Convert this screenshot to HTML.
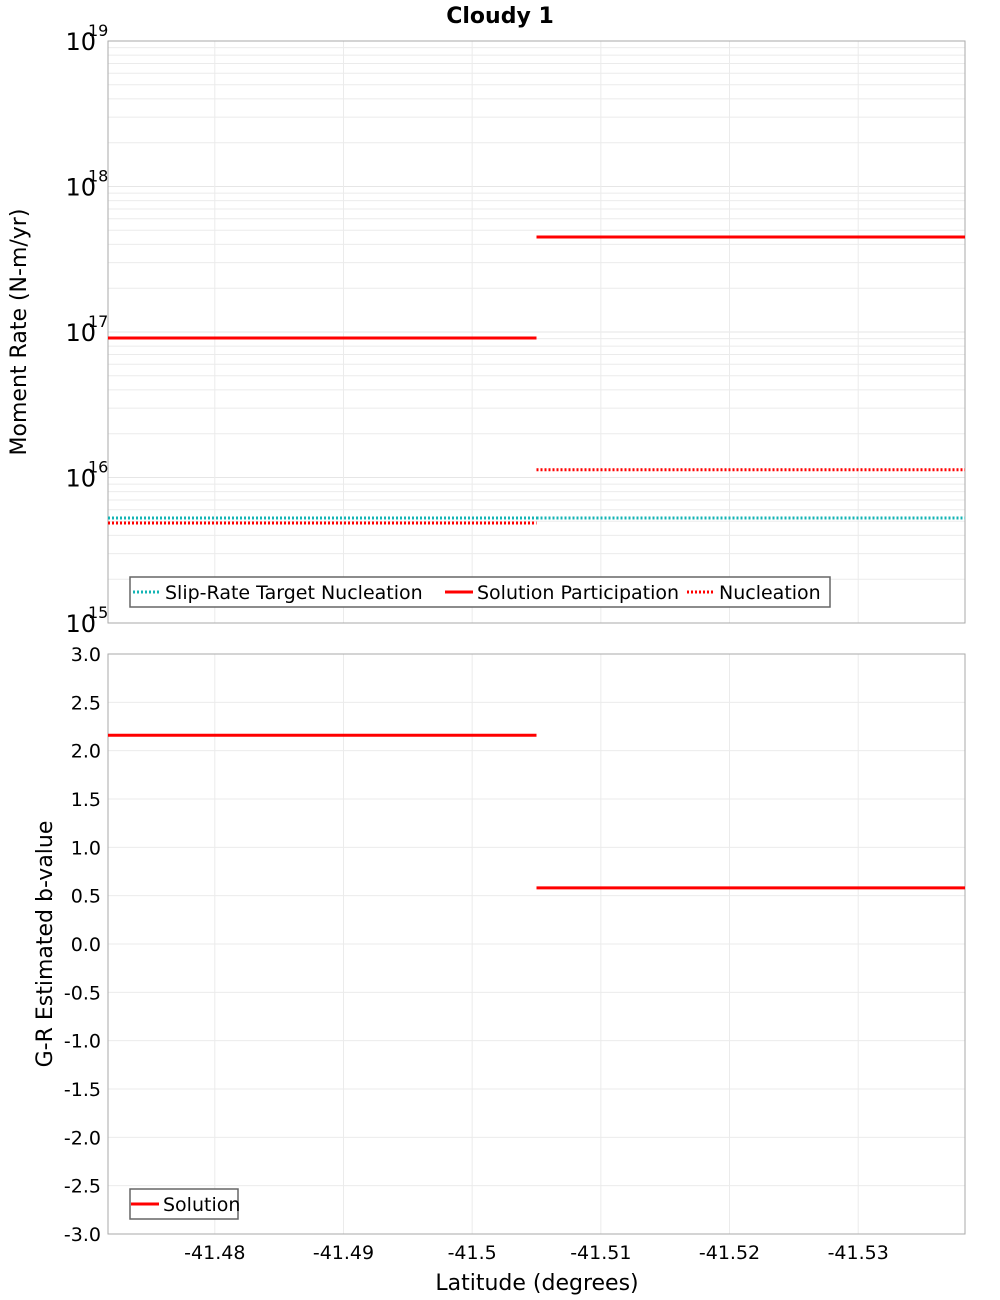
<!DOCTYPE html>
<html><head><meta charset="utf-8"><style>
body{margin:0;background:#fff;}
svg{display:block;font-family:"DejaVu Sans","Liberation Sans",sans-serif;}
</style></head><body>
<svg id="chart" width="1000" height="1300" viewBox="0 0 1000 1300" xmlns="http://www.w3.org/2000/svg">
<text x="500" y="23" text-anchor="middle" font-size="22" font-weight="bold">Cloudy 1</text>
<g id="topPanel"></g>
<g id="botPanel"></g>
<text transform="translate(26,332) rotate(-90)" text-anchor="middle" font-size="22">Moment Rate (N-m/yr)</text>
<text transform="translate(52,944) rotate(-90)" text-anchor="middle" font-size="22">G-R Estimated b-value</text>
<text x="537" y="1290" text-anchor="middle" font-size="22">Latitude (degrees)</text>
</svg>
<script>
const xTicks=[-41.48,-41.49,-41.50,-41.51,-41.52,-41.53];
const xTickLabels=["-41.48","-41.49","-41.5","-41.51","-41.52","-41.53"];
const segStarts=[-41.4717,-41.505];
const segEnds=[-41.505,-41.5383];
const participation=[9.1e16,4.5e17];
const nucleation=[4.87e15,1.13e16];
const targetNucleation=[5.27e15,5.27e15];
const bValues=[2.16,0.58];
const logTicks=[15,16,17,18,19];
const bTicks=[3.0,2.5,2.0,1.5,1.0,0.5,0.0,-0.5,-1.0,-1.5,-2.0,-2.5,-3.0];

const NS="http://www.w3.org/2000/svg";
const L=108,R=965,T1=41,B1=623,T2=654,B2=1234;
const X0=-41.4717,X1=-41.5383;
function xs(v){return L+(v-X0)/(X1-X0)*(R-L);}
function ys1(v){return B1-(Math.log10(v)-15)/4*(B1-T1);}
function ys2(v){return B2-(v+3)/6*(B2-T2);}
function mk(parent,tag,attrs){const e=document.createElementNS(NS,tag);for(const k in attrs)e.setAttribute(k,attrs[k]);parent.appendChild(e);return e;}
const topG=document.getElementById('topPanel'),botG=document.getElementById('botPanel');

for(let d=15;d<19;d++){for(let m=2;m<=9;m++){const y=ys1(m*Math.pow(10,d));
const g=mk(topG,'line',{x1:L,x2:R,y1:y,y2:y,stroke:'#ebebeb','stroke-width':1});

}}
logTicks.forEach(t=>{const y=ys1(Math.pow(10,t));
const g=mk(topG,'line',{x1:L,x2:R,y1:y,y2:y,stroke:'#e6e6e6','stroke-width':1});


const tx=mk(topG,'text',{x:96,y:y+9,'text-anchor':'end','font-size':24});
tx.textContent='10';


const sx=mk(topG,'text',{x:88,y:y-5,'font-size':16});
sx.textContent=String(t);

});
bTicks.forEach(t=>{const y=ys2(t);
const g=mk(botG,'line',{x1:L,x2:R,y1:y,y2:y,stroke:'#ebebeb','stroke-width':1});


const tx=mk(botG,'text',{x:101,y:y+7,'text-anchor':'end','font-size':19});
tx.textContent=t.toFixed(1);

});
xTicks.forEach((t,i)=>{const x=xs(t);
[[topG,T1,B1],[botG,T2,B2]].forEach(([p,a,b])=>{const g=mk(p,'line',{x1:x,x2:x,y1:a,y2:b,stroke:'#ebebeb','stroke-width':1});

});
const tx=mk(botG,'text',{x:x,y:1259,'text-anchor':'middle','font-size':19});
tx.textContent=xTickLabels[i];

});
[[topG,T1,B1],[botG,T2,B2]].forEach(([p,a,b])=>{const r=mk(p,'rect',{x:L,y:a,width:R-L,height:b-a,fill:'none',stroke:'#aaa','stroke-width':1});

});
function seg(p,arr,scale,color,dash,name){arr.forEach((v,i)=>{const y=scale(v);
const a={x1:xs(segStarts[i]),x2:xs(segEnds[i]),y1:y,y2:y,stroke:color,'stroke-width':3};
if(dash)a['stroke-dasharray']='2,2';
const l=mk(p,'line',a);

});}
seg(topG,targetNucleation,ys1,'#14b4b4',true,'target-nucleation-line');
seg(topG,nucleation,ys1,'#ff0000',true,'nucleation-line');
seg(topG,participation,ys1,'#ff0000',false,'participation-line');
seg(botG,bValues,ys2,'#ff0000',false,'b-value-line');
function legend(p,x,y,w,items,name){const g=mk(p,'g',{});


mk(g,'rect',{x:x,y:y,width:w,height:30,fill:'#fff',stroke:'#666','stroke-width':1.5});
items.forEach(it=>{const a={x1:it.x,x2:it.x+28,y1:y+15,y2:y+15,stroke:it.c,'stroke-width':3};
if(it.d)a['stroke-dasharray']='2,2';
mk(g,'line',a);
const t=mk(g,'text',{x:it.x+32,y:y+22,'font-size':19});t.textContent=it.t;

});}
legend(topG,130,577,700,[{x:133,c:'#14b4b4',d:true,t:'Slip-Rate Target Nucleation'},{x:445,c:'#ff0000',d:false,t:'Solution Participation'},{x:687,c:'#ff0000',d:true,t:'Nucleation'}],'top-legend');
legend(botG,130,1189,108,[{x:131,c:'#ff0000',d:false,t:'Solution'}],'bottom-legend');
</script>
</body></html>
